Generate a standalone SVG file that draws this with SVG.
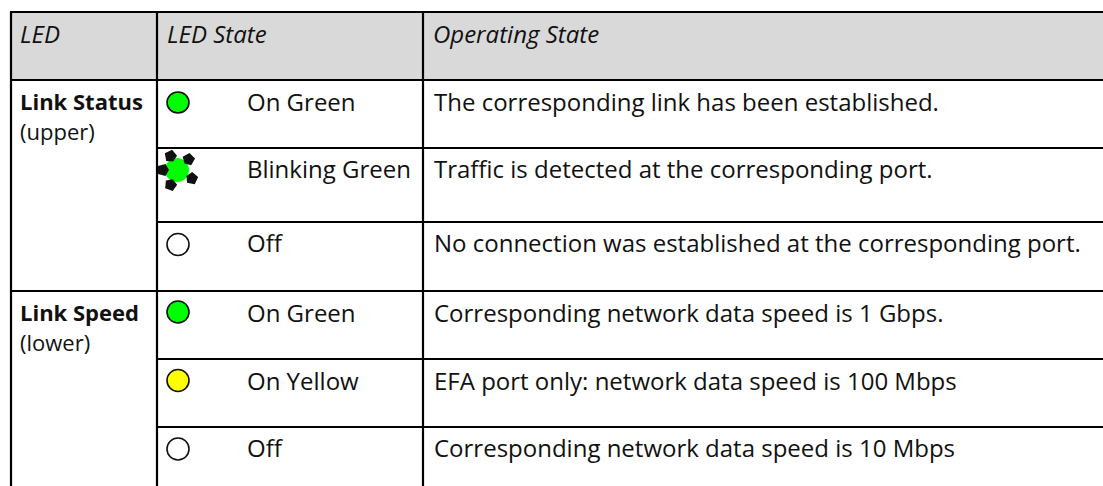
<svg xmlns="http://www.w3.org/2000/svg" width="1103" height="486" viewBox="0 0 1103 486">
<style>
text{font-family:"Open Sans","Noto Sans","DejaVu Sans",sans-serif;font-size:24px;fill:#111;}
.hd{font-style:italic;}
.b{font-weight:bold;}
.c1{font-size:22px;}
.ln{stroke:#000;stroke-width:2.2;fill:none;}
.led{stroke:#111;stroke-width:1.6;}
.g{fill:#00ff00;}
.y{fill:#ffff00;}
.o{fill:#fff;}
.mk{fill:#111;}
</style>
<defs>
<path id="ray" d="M-4,-6 L4,-6 L6,1.5 L0,5 L-6,1.5 Z"/>
</defs>
<rect x="11" y="12" width="1092" height="68" fill="#d9d9d9"/>
<g id="grid">
<line class="ln" x1="11" y1="12" x2="1103" y2="12"/>
<line class="ln" x1="11" y1="80" x2="1103" y2="80"/>
<line class="ln" x1="157" y1="148" x2="1103" y2="148"/>
<line class="ln" x1="157" y1="222" x2="1103" y2="222"/>
<line class="ln" x1="11" y1="291" x2="1103" y2="291"/>
<line class="ln" x1="157" y1="359" x2="1103" y2="359"/>
<line class="ln" x1="157" y1="427" x2="1103" y2="427"/>
<line class="ln" x1="11" y1="11" x2="11" y2="486"/>
<line class="ln" x1="157" y1="11" x2="157" y2="486"/>
<line class="ln" x1="423" y1="11" x2="423" y2="486"/>
</g>
<g id="header">
<text class="hd" x="20" y="43">LED</text>
<text class="hd" x="167" y="43">LED State</text>
<text class="hd" x="433" y="43">Operating State</text>
</g>
<g id="link-status">
<text class="b c1" x="20" y="110">Link Status</text>
<text class="c1" x="20" y="140">(upper)</text>
</g>
<g id="row-ls-on">
<ellipse class="led g" cx="178" cy="102.5" rx="11" ry="10.5"/>
<text x="247" y="111">On Green</text>
<text x="434" y="111">The corresponding link has been established.</text>
</g>
<g id="row-ls-blink">
<circle class="g" cx="177" cy="170" r="12"/>
<use class="mk" href="#ray" transform="translate(171,157) rotate(-25)"/>
<use class="mk" href="#ray" transform="translate(188,160) rotate(45)"/>
<use class="mk" href="#ray" transform="translate(164,170) rotate(-90)"/>
<use class="mk" href="#ray" transform="translate(191,178) rotate(115)"/>
<use class="mk" href="#ray" transform="translate(171,184) rotate(200)"/>
<text x="247" y="178">Blinking Green</text>
<text x="434" y="178">Traffic is detected at the corresponding port.</text>
</g>
<g id="row-ls-off">
<ellipse class="led o" cx="178" cy="244.5" rx="11" ry="11"/>
<text x="247" y="252">Off</text>
<text x="434" y="252">No connection was established at the corresponding port.</text>
</g>
<g id="link-speed">
<text class="b c1" x="20" y="321">Link Speed</text>
<text class="c1" x="20" y="351">(lower)</text>
</g>
<g id="row-sp-green">
<ellipse class="led g" cx="178" cy="312" rx="11" ry="11"/>
<text x="247" y="322">On Green</text>
<text x="434" y="322">Corresponding network data speed is 1 Gbps.</text>
</g>
<g id="row-sp-yellow">
<ellipse class="led y" cx="178" cy="380.5" rx="11" ry="11"/>
<text x="247" y="390">On Yellow</text>
<text x="434" y="390">EFA port only: network data speed is 100 Mbps</text>
</g>
<g id="row-sp-off">
<ellipse class="led o" cx="178" cy="449" rx="11" ry="11"/>
<text x="247" y="457">Off</text>
<text x="434" y="457">Corresponding network data speed is 10 Mbps</text>
</g>
</svg>
